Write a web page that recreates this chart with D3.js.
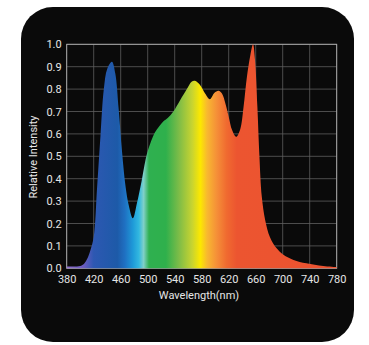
<!DOCTYPE html>
<html>
<head>
<meta charset="utf-8">
<script src="https://cdn.jsdelivr.net/npm/d3@7"></script>
<style>
  html, body { margin: 0; padding: 0; background: #fff; }
  svg { display: block; }
  text { font-family: Roboto, "Noto Sans", sans-serif; fill: #e6e6e6; }
</style>
</head>
<body>
<div id="chart"></div>
<script>
// spectrum
var wavelengths = [380, 390, 400, 405, 410, 415, 420, 425, 430, 435, 440, 447, 452, 457, 462, 467, 472, 478,
  484, 491, 498, 503, 508, 513, 518, 523, 530, 538, 548, 558, 565, 570, 577, 585, 592, 599, 605, 610,
  615, 620, 625, 631, 637, 642, 647, 652, 656, 659, 662.5, 665.5, 669, 674, 681, 691, 701, 716, 735, 760, 780];
var intensity = [0.008, 0.008, 0.010, 0.018, 0.040, 0.080, 0.140, 0.36, 0.59, 0.80, 0.89, 0.922, 0.87, 0.71, 0.52, 0.37, 0.28, 0.223,
  0.29, 0.39, 0.50, 0.55, 0.59, 0.617, 0.637, 0.655, 0.672, 0.70, 0.75, 0.80, 0.833, 0.837, 0.82, 0.78, 0.755, 0.784, 0.793, 0.78,
  0.737, 0.677, 0.617, 0.587, 0.62, 0.72, 0.855, 0.95, 1.0, 0.93, 0.72, 0.50, 0.32, 0.216, 0.14, 0.089, 0.06, 0.037, 0.022, 0.01, 0.005];

var xTicks = [380, 420, 460, 500, 540, 580, 620, 660, 700, 740, 780];
var yTicks = [0, 0.1, 0.2, 0.3, 0.4, 0.5, 0.6, 0.7, 0.8, 0.9, 1.0];

// colour of the fill along the wavelength axis
var stopNm = [380, 405, 420, 455, 466, 478, 487, 494, 502, 527, 546, 566, 578, 588, 602, 617, 632, 780];
var stopColor = ["#9070cc", "#6a5cc0", "#2d58b2", "#1d5aa8", "#1f70c2", "#1e9ad8", "#32b8e0", "#80d0c8", "#2fb050",
  "#2fb04c", "#7cbc48", "#c8d430", "#fce800", "#f8b830", "#f59038", "#f06a30", "#ec5530", "#ec5230"];

var W = 369, H = 345;
var margin = { left: 66.7, right: 32.3, top: 44.3, bottom: 76.7 };

var svg = d3.select("#chart").append("svg")
  .attr("width", W)
  .attr("height", H);

svg.append("rect")
  .attr("x", 21).attr("y", 7)
  .attr("width", 333).attr("height", 335)
  .attr("rx", 32).attr("ry", 32)
  .attr("fill", "#0a0a0a");

var x = d3.scaleLinear().domain([380, 780]).range([margin.left, W - margin.right]);
var y = d3.scaleLinear().domain([0, 1]).range([H - margin.bottom, margin.top]);

var grad = svg.append("defs").append("linearGradient")
  .attr("id", "spec")
  .attr("gradientUnits", "userSpaceOnUse")
  .attr("x1", x(380)).attr("x2", x(780))
  .attr("y1", 0).attr("y2", 0);
grad.selectAll("stop")
  .data(stopNm)
  .enter().append("stop")
  .attr("offset", function(d) { return (d - 380) / 400; })
  .attr("stop-color", function(d, i) { return stopColor[i]; });

// grid
var grid = svg.append("g").attr("stroke", "#5e5e5e").attr("stroke-width", 0.8);
grid.selectAll(".vx").data(xTicks).enter().append("line")
  .attr("x1", function(d) { return x(d); }).attr("x2", function(d) { return x(d); })
  .attr("y1", y(0)).attr("y2", y(1));
grid.selectAll(".hy").data(yTicks).enter().append("line")
  .attr("y1", function(d) { return y(d); }).attr("y2", function(d) { return y(d); })
  .attr("x1", x(380)).attr("x2", x(780));

svg.append("rect")
  .attr("x", x(380)).attr("y", y(1))
  .attr("width", x(780) - x(380)).attr("height", y(0) - y(1))
  .attr("fill", "none").attr("stroke", "#b0b0b0").attr("stroke-width", 0.9);

var pts = wavelengths.map(function(w, i) { return [w, intensity[i]]; });
var area = d3.area()
  .x(function(d) { return x(d[0]); })
  .y0(y(0))
  .y1(function(d) { return y(Math.min(1, d[1])); })
  .curve(d3.curveCatmullRom.alpha(0.5));

svg.append("path")
  .datum(pts)
  .attr("fill", "url(#spec)")
  .attr("d", area);

// axes (labels only, the frame is drawn above)
var xAxis = svg.append("g")
  .attr("transform", "translate(0," + y(0) + ")")
  .call(d3.axisBottom(x).tickValues(xTicks).tickSize(0).tickPadding(7));
var yAxis = svg.append("g")
  .attr("transform", "translate(" + x(380) + ",0)")
  .call(d3.axisLeft(y).tickValues(yTicks).tickSize(0).tickPadding(5).tickFormat(d3.format(".1f")));
[xAxis, yAxis].forEach(function(a) {
  a.select(".domain").remove();
  a.selectAll("text")
    .attr("fill", "#e6e6e6")
    .style("font-family", "Roboto, sans-serif")
    .style("font-size", "11px");
});

svg.append("text")
  .attr("x", 199).attr("y", 299)
  .attr("text-anchor", "middle")
  .style("font-size", "11px")
  .text("Wavelength(nm)");

svg.append("text")
  .attr("transform", "translate(37," + 157 + ") rotate(-90)")
  .attr("text-anchor", "middle")
  .style("font-size", "11px")
  .text("Relative Intensity");
</script>
</body>
</html>
